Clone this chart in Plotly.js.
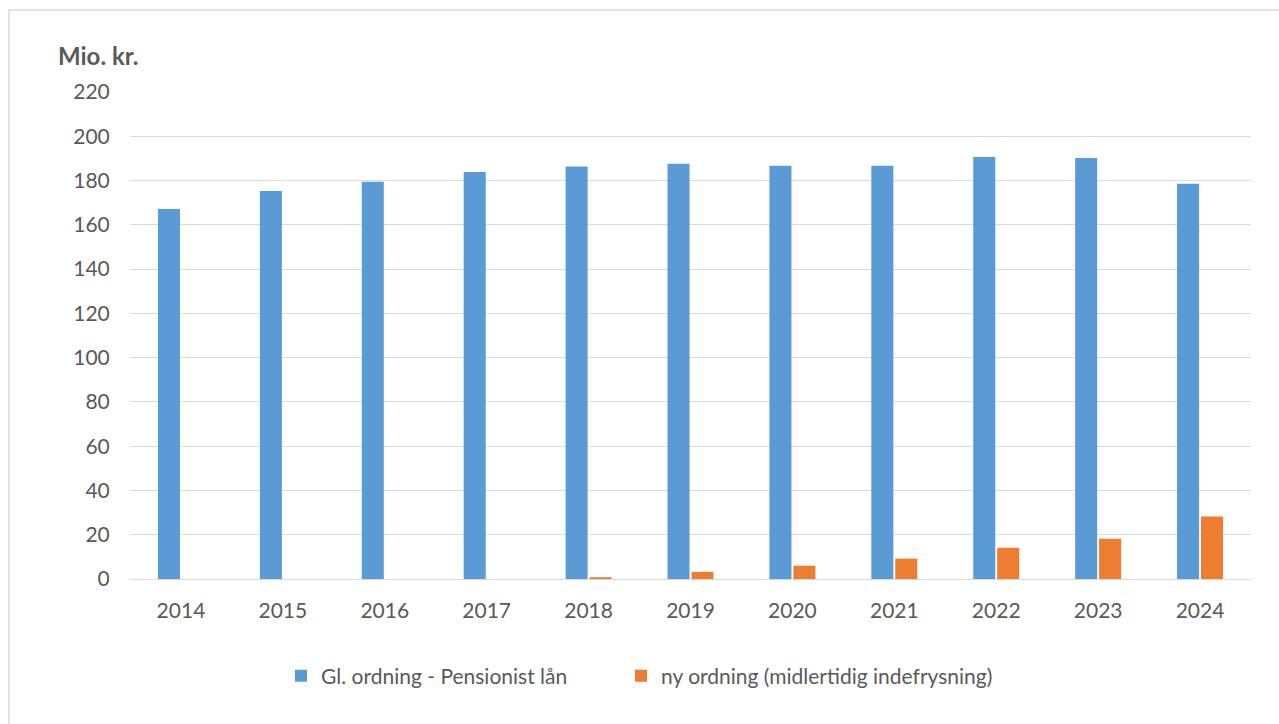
<!DOCTYPE html>
<html>
<head>
<meta charset="utf-8">
<script src="https://cdn.plot.ly/plotly-3.0.1.min.js"></script>
<style>html,body{margin:0;padding:0;background:#fff;}#chart{width:1279px;height:724px;}</style>
</head>
<body>
<div id="chart"></div>
<script>
const years = ['2014','2015','2016','2017','2018','2019','2020','2021','2022','2023','2024'];
const gamleOrdning = [167.1, 175.3, 179.5, 183.9, 186.3, 187.6, 186.7, 186.7, 190.6, 190.2, 178.6];
const nyOrdning = [0, 0, 0, 0, 0.8, 3.2, 6.0, 9.2, 14.1, 18.2, 28.2];
const seriesNames = ['Gl. ordning - Pensionist lån', 'ny ordning (midlertidig indefrysning)'];
const yTicks = [0, 20, 40, 60, 80, 100, 120, 140, 160, 180, 200, 220];

const font = {family: 'Lato, "Open Sans", sans-serif', size: 21, color: '#595959'};
const traces = [
  {type: 'bar', x: years, y: gamleOrdning, name: seriesNames[0], marker: {color: '#5b9bd5'}, hoverinfo: 'x+y', legend: 'legend'},
  {type: 'bar', x: years, y: nyOrdning, name: seriesNames[1], marker: {color: '#ed7d31'}, hoverinfo: 'x+y', legend: 'legend2'}
];
const legendBase = {orientation: 'h', xanchor: 'left', y: (579-676)/487, yanchor: 'middle', font: font, itemwidth: 30, bgcolor: 'rgba(0,0,0,0)'};
const layout = {
  width: 1279, height: 724,
  margin: {l: 130, r: 28, t: 92, b: 145},
  paper_bgcolor: '#fff', plot_bgcolor: '#fff',
  font: font,
  barmode: 'group', bargap: 0.53, bargroupgap: 0.08,
  showlegend: true,
  legend: Object.assign({}, legendBase, {x: (281-130)/1121}),
  legend2: Object.assign({}, legendBase, {x: (621-130)/1121}),
  xaxis: {type: 'category', tickfont: font, showgrid: false, showline: false, ticks: 'outside', ticklen: 13, tickcolor: 'rgba(0,0,0,0)'},
  yaxis: {range: [0, 220], tickvals: yTicks, tickfont: font, showgrid: true, gridcolor: '#d9d9d9', gridwidth: 1,
          zeroline: true, zerolinecolor: '#d9d9d9', zerolinewidth: 1, ticks: 'outside', ticklen: 15, tickcolor: 'rgba(0,0,0,0)', showline: false},
  annotations: [{text: '<b>Mio. kr.</b>', xref: 'paper', yref: 'paper', x: (56-130)/1121, xanchor: 'left', y: (579-55)/487, yanchor: 'middle', showarrow: false, font: {family: font.family, size: 24, color: '#595959'}}],
  shapes: [{type: 'rect', xref: 'paper', yref: 'paper', x0: (9-130)/1121, x1: (1290-130)/1121, y0: (579-740)/487, y1: (579-10)/487,
            line: {color: '#d9d9d9', width: 1.5}, fillcolor: 'rgba(0,0,0,0)', layer: 'below'}]
};
Plotly.newPlot('chart', traces, layout, {displayModeBar: false, staticPlot: true});
</script>
</body>
</html>
